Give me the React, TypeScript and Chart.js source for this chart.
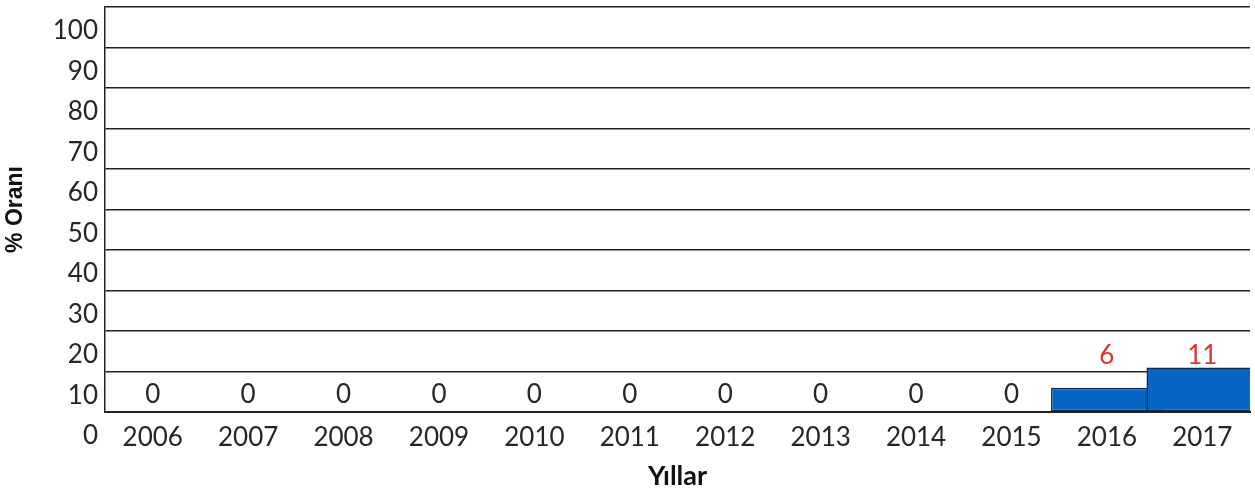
import { useEffect, useRef } from 'react';
import { Chart, registerables } from 'chart.js';

Chart.register(...registerables);

const years = ['2006', '2007', '2008', '2009', '2010', '2011', '2012', '2013', '2014', '2015', '2016', '2017'];
const rates = [0, 0, 0, 0, 0, 0, 0, 0, 0, 0, 6, 11];
const yMin = 0;
const yMax = 100;
const yStep = 10;

export default function App() {
  const ref = useRef<HTMLCanvasElement>(null);

  useEffect(() => {
    if (!ref.current) return;
    const labelPlugin = {
      id: 'valueLabels',
      afterDatasetsDraw(chart: any) {
        const ctx = chart.ctx;
        const xs = chart.scales.x;
        const ys = chart.scales.y;
        const maxVal = Math.max(...rates);
        ctx.save();
        ctx.font = '26px Lato';
        ctx.textAlign = 'center';
        ctx.textBaseline = 'middle';
        rates.forEach((v, i) => {
          const px = xs.getPixelForValue(i);
          const py = ys.getPixelForValue(v === 0 ? 4.3 : maxVal + 3);
          ctx.fillStyle = v === 0 ? '#262626' : '#e0322d';
          ctx.fillText(String(v), px, py);
        });
        ctx.restore();
      },
    };

    const chart = new Chart(ref.current, {
      type: 'bar',
      data: {
        labels: years,
        datasets: [
          {
            data: rates,
            backgroundColor: '#0766c4',
            borderColor: '#0f2a4e',
            borderWidth: 1.5,
            borderSkipped: false,
            barPercentage: 1.17,
            categoryPercentage: 1.0,
          },
        ],
      },
      options: {
        animation: false,
        responsive: true,
        maintainAspectRatio: false,
        layout: { padding: { top: 7, right: 5, left: 0, bottom: 0 } },
        plugins: {
          legend: { display: false },
          tooltip: { enabled: false },
        },
        scales: {
          x: {
            grid: { display: false, drawTicks: false },
            border: { display: true, color: '#222', width: 2 },
            ticks: { color: '#262626', font: { family: 'Lato', size: 26 }, padding: 10, maxRotation: 0, autoSkip: false },
            title: {
              display: true,
              text: 'Yıllar',
              color: '#111',
              font: { family: 'Lato', size: 27, weight: 'bold' },
              padding: { top: 1, bottom: 0 },
            },
            afterFit(scale: any) {
              scale.height = 80;
              scale.paddingLeft = 0;
              scale.paddingRight = 0;
            },
          },
          y: {
            min: yMin,
            max: yMax,
            grid: { color: '#222', lineWidth: 1.5, drawTicks: false },
            border: { display: true, color: '#222', width: 1.5 },
            ticks: {
              stepSize: yStep,
              color: '#262626',
              font: { family: 'Lato', size: 26 },
              padding: 7,
              labelOffset: 24,
            },
            title: {
              display: true,
              text: '% Oranı',
              color: '#111',
              font: { family: '"Liberation Sans", Arial, sans-serif', size: 23, weight: 'bold' },
              padding: { top: 2, bottom: 0 },
            },
            afterFit(scale: any) {
              scale.width = 105;
              scale.paddingTop = 0;
              scale.paddingBottom = 0;
            },
          },
        },
      },
      plugins: [labelPlugin],
    });
    return () => chart.destroy();
  }, []);

  return (
    <div style={{ position: 'fixed', left: 0, top: 0, width: 1255, height: 492, background: '#fff' }}>
      <canvas ref={ref} />
    </div>
  );
}
